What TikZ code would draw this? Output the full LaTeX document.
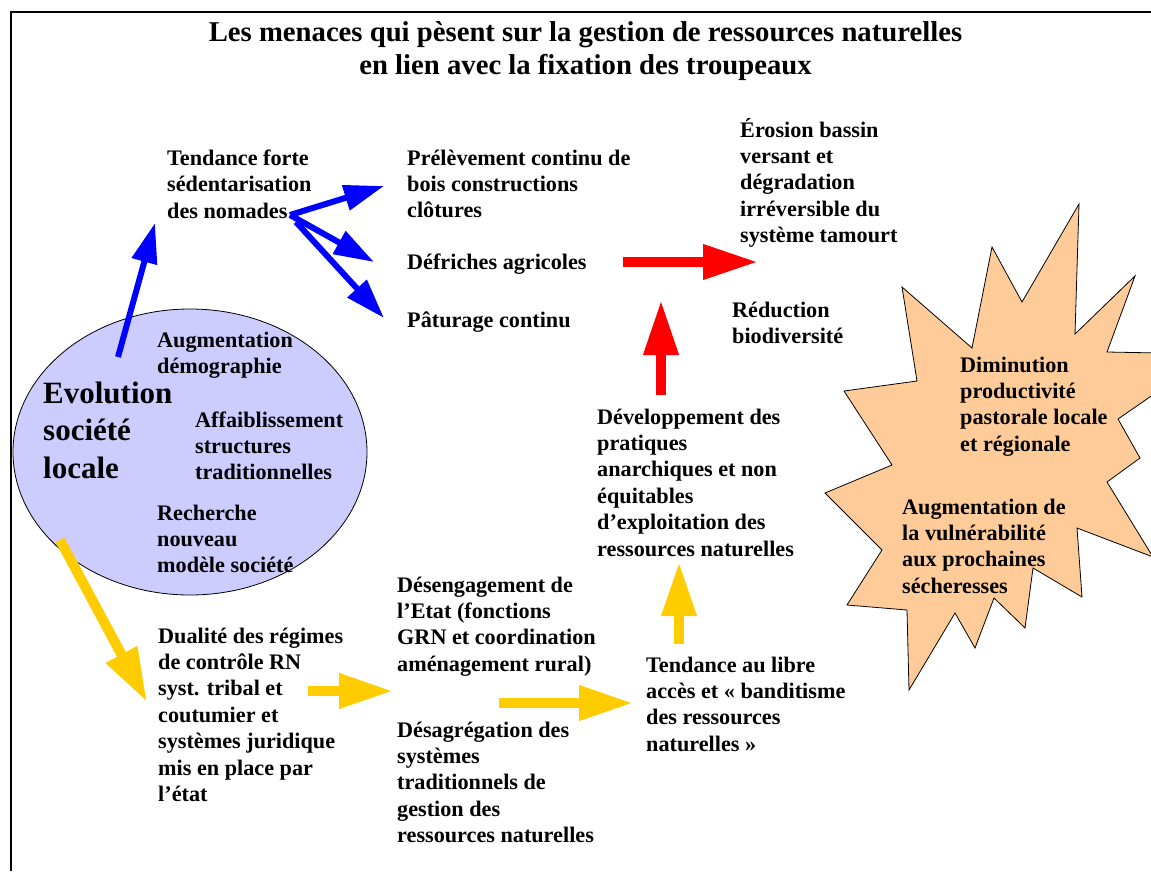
\documentclass[tikz,border=0pt]{standalone}
\usepackage{fontspec}
\setmainfont{Liberation Serif}
\usetikzlibrary{arrows.meta,shapes.geometric}
\definecolor{ellfill}{RGB}{204,204,255}
\definecolor{starfill}{RGB}{255,204,153}
\definecolor{arrblue}{RGB}{0,0,255}
\definecolor{arrred}{RGB}{255,0,0}
\definecolor{arryel}{RGB}{255,204,0}
\begin{document}
\begin{tikzpicture}[x=1pt,y=-1pt,
  txt/.style={anchor=base west, inner sep=0pt, align=left, font=\fontsize{22.2}{26.4}\selectfont\bfseries},
  bigtxt/.style={anchor=base west, inner sep=0pt, align=left, font=\fontsize{31}{37.5}\selectfont\bfseries},
  titletxt/.style={anchor=base, inner sep=0pt, align=center, font=\fontsize{28.7}{33.3}\selectfont\bfseries},
  bluearrow/.style={draw=arrblue, line width=6pt, -{Triangle[length=40pt,width=25pt]}},
  redarrow/.style={draw=arrred, line width=10pt, -{Triangle[length=55pt,width=33pt]}},
  yelarrow/.style={draw=arryel, line width=10pt, -{Triangle[length=54pt,width=33pt]}},
  frameline/.style={draw=black, line width=2pt}
]
\useasboundingbox (0,0) rectangle (1151,871);
\fill[white] (0,0) rectangle (1151,871);

% frame
\draw[frameline] (10,12) -- (1151,12);
\draw[frameline] (11,12) -- (11,871);

% title (base anchor = baseline of last line)
\node[titletxt] (title) at (585.5,74.3) {Les menaces qui pèsent sur la gestion de ressources naturelles\\en lien avec la fixation des troupeaux};

% starburst
\begin{scope}
\clip (0,0) rectangle (1151,871);
\draw[fill=starfill, line width=0.8pt, line join=miter] (1079,204) -- (1075,334) -- (1135,276) -- (1107,352) -- (1212,354) -- (1118,419) -- (1140,458) -- (1107,482) -- (1153,557) -- (1077,528) -- (1082,597) -- (1033,568) -- (1025,628) -- (994,598) -- (975,648) -- (955,613) -- (909,690) -- (907,610) -- (847,605) -- (882,550) -- (825,493) -- (892,465) -- (844,391) -- (917,381) -- (902,287) -- (972,348) -- (992,247) -- (1022,302) -- cycle;
\end{scope}

% ellipse
\node[ellipse, draw=black, line width=0.8pt, fill=ellfill, minimum width=354pt, minimum height=286pt, inner sep=0pt] (evol) at (190,452) {};

% texts (positions are the baselines of the last lines)
\node[bigtxt] (evoltxt) at (43,478) {Evolution\\société\\locale};
\node[txt] (augdem) at (157,373.4) {Augmentation\\démographie};
\node[txt] (affai) at (195,479.8) {Affaiblissement\\structures\\traditionnelles};
\node[txt] (rech) at (157,572.8) {Recherche\\nouveau\\modèle société};

\node[txt] (tend) at (167,218.3) {Tendance forte\\sédentarisation\\des nomades};
\node[txt] (prel) at (407,217.8) {Prélèvement continu de\\bois constructions\\clôtures};
\node[txt] (defr) at (407,269.5) {Défriches agricoles};
\node[txt] (patu) at (407,327) {Pâturage continu};
\node[txt] (eros) at (740,242.6) {Érosion bassin\\versant et\\dégradation\\irréversible du\\système tamourt};
\node[txt] (redu) at (732,343.4) {Réduction\\biodiversité};
\node[txt] (dimi) at (960,451.2) {Diminution\\productivité\\pastorale locale\\et régionale};
\node[txt] (vuln) at (902,593.2) {Augmentation de\\la vulnérabilité\\aux prochaines\\sécheresses};
\node[txt] (devel) at (597,556) {Développement des\\pratiques\\anarchiques et non\\équitables\\d’exploitation des\\ressources naturelles};
\node[txt] (deseng) at (397,671.2) {Désengagement de\\l’Etat (fonctions\\GRN et coordination\\aménagement rural)};
\node[txt] (desag) at (397,842.6) {Désagrégation des\\systèmes\\traditionnels de\\gestion des\\ressources naturelles};
\node[txt] (dual) at (158,801.4) {Dualité des régimes\\de contrôle RN\\syst. tribal et\\coutumier et\\systèmes juridique\\mis en place par\\l’état};
\node[txt] (libre) at (646,751.2) {Tendance au libre\\accès et « banditisme\\des ressources\\naturelles »};

% arrow end points
\coordinate (b1s) at (118,357); \coordinate (b1e) at (155,223);
\coordinate (b2s) at (290,215); \coordinate (b2e) at (384,186);
\coordinate (b3s) at (290,215); \coordinate (b3e) at (374,262);
\coordinate (b4s) at (296,222); \coordinate (b4e) at (384,318);
\coordinate (r1s) at (623,262); \coordinate (r1e) at (758,262);
\coordinate (r2s) at (661,395); \coordinate (r2e) at (661,300);
\coordinate (y1s) at (60,540);  \coordinate (y1e) at (147,702);
\coordinate (y2s) at (308,691); \coordinate (y2e) at (393,691);
\coordinate (y3s) at (499,703); \coordinate (y3e) at (633,703);
\coordinate (y4s) at (679,644); \coordinate (y4e) at (679,562);

% arrows
\draw[bluearrow] (b1s) -- (b1e);
\draw[bluearrow] (b2s) -- (b2e);
\draw[bluearrow] (b3s) -- (b3e);
\draw[bluearrow] (b4s) -- (b4e);
\draw[redarrow] (r1s) -- (r1e);
\draw[redarrow] (r2s) -- (r2e);
\draw[yelarrow] (y1s) -- (y1e);
\draw[yelarrow] (y2s) -- (y2e);
\draw[yelarrow] (y3s) -- (y3e);
\draw[yelarrow] (y4s) -- (y4e);
\end{tikzpicture}
\end{document}
